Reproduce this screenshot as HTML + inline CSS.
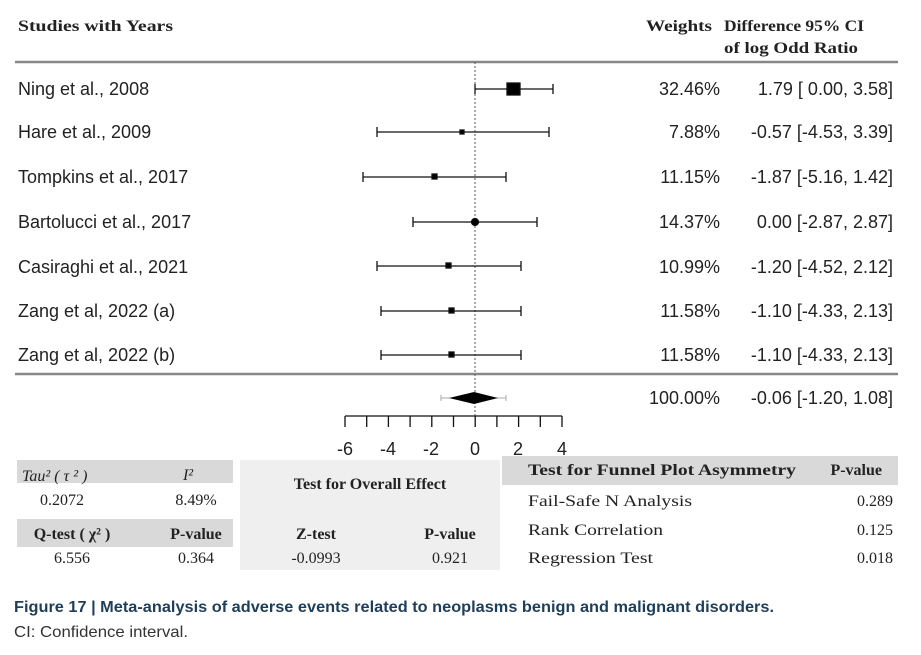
<!DOCTYPE html>
<html><head><meta charset="utf-8"><style>
html,body{margin:0;padding:0;background:#fff;}
svg{display:block;}
.s{font-family:"Liberation Sans",sans-serif;fill:#222;font-size:18px;}
.t{font-family:"Liberation Serif",serif;fill:#222;font-size:16px;}
.tb{font-family:"Liberation Serif",serif;fill:#222;font-size:16px;font-weight:bold;}
</style></head><body>
<svg width="921" height="655" viewBox="0 0 921 655">
<text x="18" y="31" class="tb" font-size="18" textLength="155" lengthAdjust="spacingAndGlyphs">Studies with Years</text>
<text x="646" y="31" class="tb" font-size="18" textLength="66" lengthAdjust="spacingAndGlyphs">Weights</text>
<text x="724" y="31" class="tb" font-size="18" textLength="140" lengthAdjust="spacingAndGlyphs">Difference 95% CI</text>
<text x="724" y="53" class="tb" font-size="18" textLength="134" lengthAdjust="spacingAndGlyphs">of log Odd Ratio</text>
<line x1="15" y1="62" x2="898" y2="62" stroke="#888" stroke-width="2.5"/>
<line x1="15" y1="374" x2="898" y2="374" stroke="#888" stroke-width="2.5"/>
<line x1="475" y1="62" x2="475" y2="416" stroke="#555" stroke-width="1" stroke-dasharray="2,2"/>
<g class="s">
<text x="18" y="95">Ning et  al., 2008</text>
<text x="18" y="138">Hare et al., 2009</text>
<text x="18" y="183">Tompkins et al., 2017</text>
<text x="18" y="228">Bartolucci et al., 2017</text>
<text x="18" y="273">Casiraghi et al., 2021</text>
<text x="18" y="317">Zang et al, 2022 (a)</text>
<text x="18" y="361">Zang et al, 2022 (b)</text>
</g>
<g class="s" text-anchor="end">
<text x="720" y="95">32.46%</text><text x="893" y="95">1.79 [ 0.00, 3.58]</text>
<text x="720" y="138">7.88%</text><text x="893" y="138">-0.57 [-4.53, 3.39]</text>
<text x="720" y="183">11.15%</text><text x="893" y="183">-1.87 [-5.16, 1.42]</text>
<text x="720" y="228">14.37%</text><text x="893" y="228">0.00 [-2.87, 2.87]</text>
<text x="720" y="273">10.99%</text><text x="893" y="273">-1.20 [-4.52, 2.12]</text>
<text x="720" y="317">11.58%</text><text x="893" y="317">-1.10 [-4.33, 2.13]</text>
<text x="720" y="361">11.58%</text><text x="893" y="361">-1.10 [-4.33, 2.13]</text>
<text x="720" y="404">100.00%</text><text x="893" y="404">-0.06 [-1.20, 1.08]</text>
</g>
<g stroke="#111" stroke-width="1.3" fill="#000">
<path d="M475 89H553M475 84V94M553 84V94" fill="none"/><rect x="507" y="83" width="13" height="12"/>
<path d="M377 132H549M377 127V137M549 127V137" fill="none"/><rect x="460" y="130" width="4" height="4"/>
<path d="M363 177H506M363 172V182M506 172V182" fill="none"/><rect x="432" y="174" width="5" height="5"/>
<path d="M413 222H537M413 217V227M537 217V227" fill="none"/><circle cx="475" cy="222" r="3.5"/>
<path d="M377 266H521M377 261V271M521 261V271" fill="none"/><rect x="446" y="263" width="5" height="5"/>
<path d="M381 311H521M381 306V316M521 306V316" fill="none"/><rect x="449" y="308" width="5" height="5"/>
<path d="M381 355H521M381 350V360M521 350V360" fill="none"/><rect x="449" y="352" width="5" height="5"/>
</g>
<path d="M441 398H506M441 395V401M506 395V401" stroke="#aaa" stroke-width="1" fill="none"/>
<polygon points="449,398 474,392 498,398 474,404" fill="#000"/>
<path d="M345 416H562" stroke="#111" stroke-width="1.3"/>
<g stroke="#111" stroke-width="1.3">
<path d="M345 416V427M366.7 416V427M388.4 416V427M410.1 416V427M431.8 416V427M453.5 416V427M475.2 416V427M496.9 416V427M518.6 416V427M540.3 416V427M562 416V427"/>
</g>
<rect x="17" y="460" width="216" height="23" fill="#d9d9d9"/>
<rect x="17" y="519" width="216" height="28" fill="#d9d9d9"/>
<rect x="240" y="460" width="260" height="110" fill="#efefef"/>
<rect x="502" y="456" width="396" height="29" fill="#d9d9d9"/>
<g class="s" text-anchor="middle" font-size="17">
<text x="345" y="455">-6</text><text x="388" y="455">-4</text><text x="431" y="455">-2</text><text x="475" y="455">0</text><text x="518" y="455">2</text><text x="562" y="455">4</text>
</g>
<text x="22" y="481" class="t" font-size="19" font-style="italic">Tau² ( τ ² )</text>
<text x="188" y="480" class="t" font-style="italic" text-anchor="middle">I²</text>
<text x="62" y="505" class="t" text-anchor="middle">0.2072</text>
<text x="196" y="505" class="t" text-anchor="middle">8.49%</text>
<text x="72" y="539" class="tb" text-anchor="middle">Q-test ( χ² )</text>
<text x="196" y="539" class="tb" text-anchor="middle">P-value</text>
<text x="72" y="563" class="t" text-anchor="middle">6.556</text>
<text x="196" y="563" class="t" text-anchor="middle">0.364</text>
<text x="370" y="489" class="tb" text-anchor="middle">Test for Overall Effect</text>
<text x="316" y="539" class="tb" text-anchor="middle">Z-test</text>
<text x="450" y="539" class="tb" text-anchor="middle">P-value</text>
<text x="316" y="563" class="t" text-anchor="middle">-0.0993</text>
<text x="450" y="563" class="t" text-anchor="middle">0.921</text>
<text x="528" y="475" class="tb" font-size="17" textLength="268" lengthAdjust="spacingAndGlyphs">Test for Funnel Plot Asymmetry</text>
<text x="882" y="475" class="tb" font-size="17" text-anchor="end">P-value</text>
<text x="528" y="506" class="t" font-size="17" textLength="164" lengthAdjust="spacingAndGlyphs">Fail-Safe N Analysis</text>
<text x="528" y="535" class="t" font-size="17" textLength="135" lengthAdjust="spacingAndGlyphs">Rank Correlation</text>
<text x="528" y="563" class="t" font-size="17" textLength="125" lengthAdjust="spacingAndGlyphs">Regression Test</text>
<text x="893" y="506" class="t" text-anchor="end">0.289</text>
<text x="893" y="535" class="t" text-anchor="end">0.125</text>
<text x="893" y="563" class="t" text-anchor="end">0.018</text>
<text x="14" y="612" font-family="Liberation Sans, sans-serif" font-size="16" font-weight="bold" fill="#1f3e5a" textLength="760" lengthAdjust="spacingAndGlyphs">Figure 17  |  Meta-analysis of adverse events related to neoplasms benign and malignant disorders.</text>
<text x="14" y="637" font-family="Liberation Sans, sans-serif" font-size="16" fill="#333" textLength="174" lengthAdjust="spacingAndGlyphs">CI: Confidence interval.</text>
</svg>
</body></html>
